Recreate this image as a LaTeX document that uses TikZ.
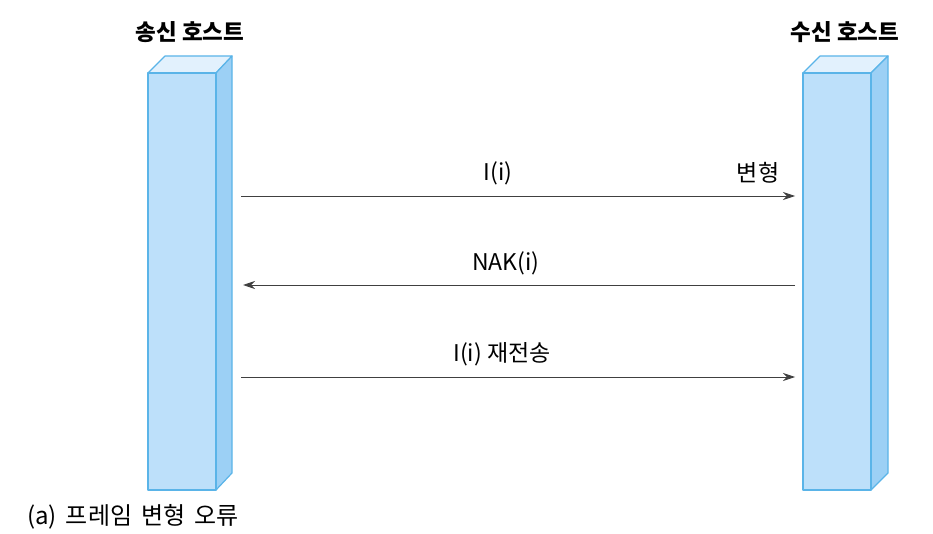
\documentclass[tikz,border=0pt]{standalone}
\usepackage{fontspec}
\setmainfont{Noto Sans CJK KR}
\usetikzlibrary{arrows.meta}
\definecolor{frontc}{HTML}{BDE0FA}
\definecolor{sidec}{HTML}{9CD0F5}
\definecolor{topc}{HTML}{E2F1FD}
\definecolor{edgec}{HTML}{5AB4E8}
\tikzset{
  face/.style={draw=edgec, line width=1.2pt, line join=round},
  msg/.style={draw=black!75, line width=0.8pt, -{Stealth[length=12pt,width=8pt]}},
  lbl/.style={font=\fontsize{23}{26}\selectfont, inner sep=0pt},
  title/.style={font=\fontsize{22.5}{26}\selectfont\bfseries, inner sep=0pt}
}
\begin{document}
\begin{tikzpicture}[x=1pt,y=-1pt]
\useasboundingbox (0,0) rectangle (933,534);
% left host
\fill[face, fill=topc] (148,73) -- (165,56) -- (232,56) -- (216,73) -- cycle;
\fill[face, fill=sidec] (216,73) -- (232,56) -- (232,473) -- (216,490) -- cycle;
\fill[face, fill=frontc] (148,73) rectangle (216,490);
\coordinate (L1) at (241,196);
\coordinate (L2) at (243,285);
\coordinate (L3) at (241,377);
% right host
\fill[face, fill=topc] (803,73) -- (820,56) -- (888,56) -- (871,73) -- cycle;
\fill[face, fill=sidec] (871,73) -- (888,56) -- (888,473) -- (871,490) -- cycle;
\fill[face, fill=frontc] (803,73) rectangle (871,490);
\coordinate (R1) at (795,196);
\coordinate (R2) at (795,285);
\coordinate (R3) at (795,377);
% titles
\node[title] (ts) at (190,32) {송신 호스트};
\node[title] (tr) at (845,32) {수신 호스트};
% messages
\draw[msg] (L1) -- (R1);
\draw[msg] (R2) -- (L2);
\draw[msg] (L3) -- (R3);
\node[lbl] (m1) at (498,173) {I(i)};
\node[lbl] (m1b) at (758,173) {변형};
\node[lbl] (m2) at (506,263) {NAK(i)};
\node[lbl] (m3) at (502,354) {I(i) 재전송};
\node[lbl, anchor=west, font=\fontsize{24}{27}\selectfont] (cap) at (27,517) {(a)\hspace{9pt}프레임\hspace{9pt}변형\hspace{9pt}오류};
\end{tikzpicture}
\end{document}
